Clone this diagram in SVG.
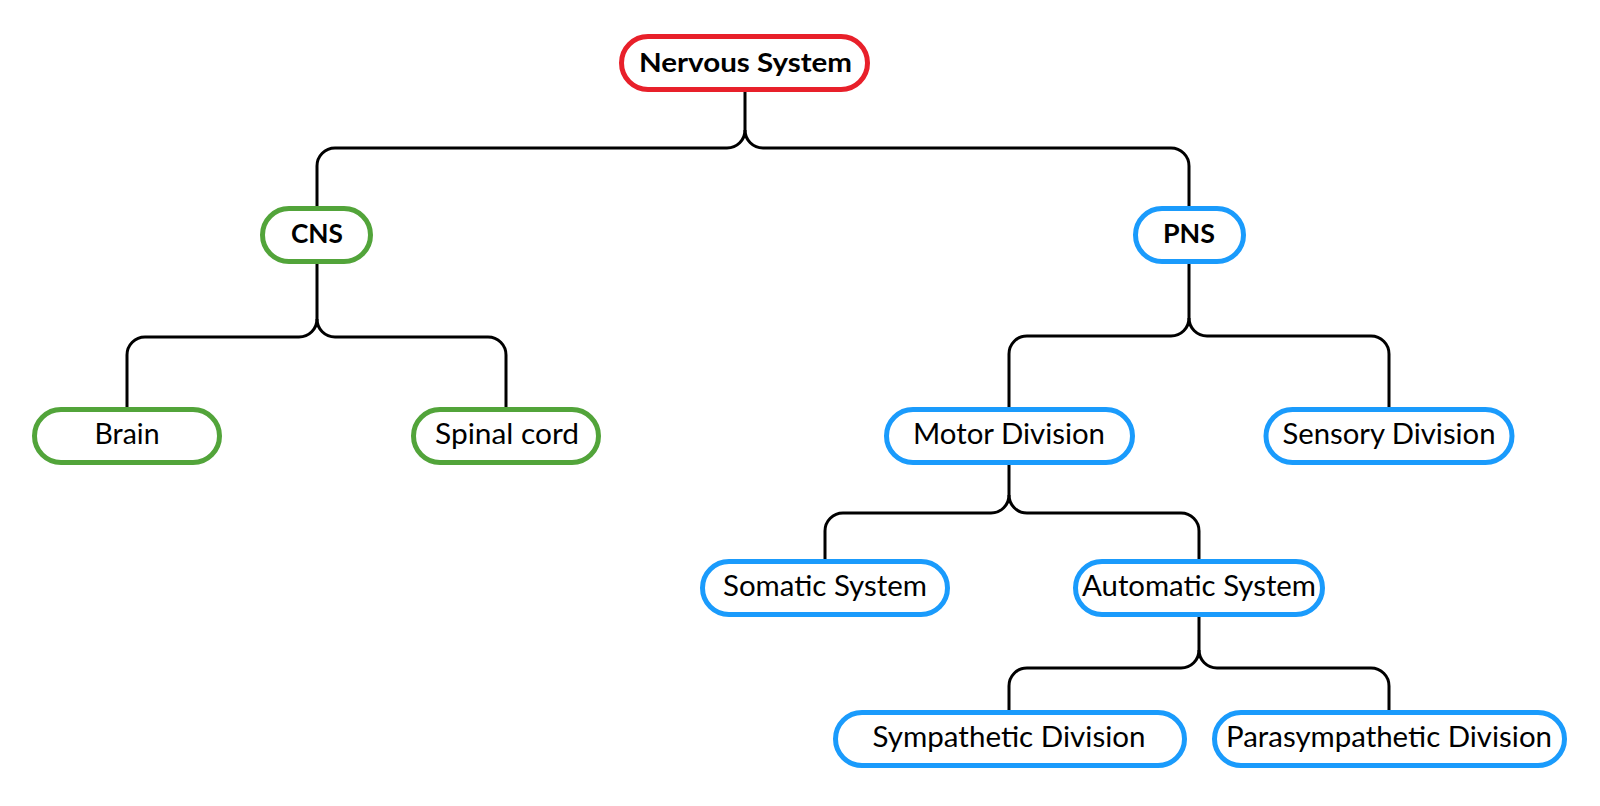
<svg xmlns="http://www.w3.org/2000/svg" width="1600" height="806" viewBox="0 0 1600 806">
<style>
.node rect{fill:#fff;stroke-width:5}
.red rect{stroke:#e8202a}
.green rect{stroke:#52a43a}
.blue rect{stroke:#1a9bfc}
text{font-family:Lato,"Open Sans","Liberation Sans",sans-serif;font-size:28px;fill:#000;text-anchor:middle}
text.b{font-weight:bold;font-size:27px}
#connectors path{fill:none;stroke:#000;stroke-width:3}
</style>
<rect width="1600" height="806" fill="#fff"/>
<g id="connectors">
<path d="M745,92 V130 C745,140 737,148 727,148 H335 C325,148 317,156 317,166 V206"/>
<path d="M745,130 C745,140 753,148 763,148 H1171 C1181,148 1189,156 1189,166 V206"/>
<path d="M317,264 V319 C317,329 309,337 299,337 H145 C135,337 127,345 127,355 V407"/>
<path d="M317,319 C317,329 325,337 335,337 H488 C498,337 506,345 506,355 V407"/>
<path d="M1189,264 V318 C1189,328 1181,336 1171,336 H1027 C1017,336 1009,344 1009,354 V407"/>
<path d="M1189,318 C1189,328 1197,336 1207,336 H1371 C1381,336 1389,344 1389,354 V407"/>
<path d="M1009,465 V495 C1009,505 1001,513 991,513 H843 C833,513 825,521 825,531 V559"/>
<path d="M1009,495 C1009,505 1017,513 1027,513 H1181 C1191,513 1199,521 1199,531 V559"/>
<path d="M1199,617 V650 C1199,660 1191,668 1181,668 H1027 C1017,668 1009,676 1009,686 V710"/>
<path d="M1199,650 C1199,660 1207,668 1217,668 H1371 C1381,668 1389,676 1389,686 V710"/>
</g>
<g id="nervous-system" class="node red">
<rect x="621.5" y="36.5" width="246" height="53" rx="26.5"/>
<text class="b" x="745.5" y="72" textLength="213" lengthAdjust="spacingAndGlyphs">Nervous System</text>
</g>
<g id="cns" class="node green">
<rect x="262.5" y="208.5" width="108" height="53" rx="26.5"/>
<text class="b" x="317" y="243" textLength="52" lengthAdjust="spacingAndGlyphs">CNS</text>
</g>
<g id="pns" class="node blue">
<rect x="1135.5" y="208.5" width="108" height="53" rx="26.5"/>
<text class="b" x="1189" y="243" textLength="52" lengthAdjust="spacingAndGlyphs">PNS</text>
</g>
<g id="brain" class="node green">
<rect x="34.5" y="409.5" width="185" height="53" rx="26.5"/>
<text x="127" y="444" textLength="65" lengthAdjust="spacingAndGlyphs">Brain</text>
</g>
<g id="spinal-cord" class="node green">
<rect x="413.5" y="409.5" width="185" height="53" rx="26.5"/>
<text x="507" y="444" textLength="144" lengthAdjust="spacingAndGlyphs">Spinal cord</text>
</g>
<g id="motor-division" class="node blue">
<rect x="886.5" y="409.5" width="246" height="53" rx="26.5"/>
<text x="1009" y="444" textLength="192" lengthAdjust="spacingAndGlyphs">Motor Division</text>
</g>
<g id="sensory-division" class="node blue">
<rect x="1266" y="409.5" width="246" height="53" rx="26.5"/>
<text x="1389" y="444" textLength="213" lengthAdjust="spacingAndGlyphs">Sensory Division</text>
</g>
<g id="somatic-system" class="node blue">
<rect x="702.5" y="561.5" width="245" height="53" rx="26.5"/>
<text x="825" y="596" textLength="204" lengthAdjust="spacingAndGlyphs">Somatic System</text>
</g>
<g id="automatic-system" class="node blue">
<rect x="1075.5" y="561.5" width="247" height="53" rx="26.5"/>
<text x="1199" y="596" textLength="234" lengthAdjust="spacingAndGlyphs">Automatic System</text>
</g>
<g id="sympathetic-division" class="node blue">
<rect x="835.5" y="712.5" width="349" height="53" rx="26.5"/>
<text x="1009" y="747" textLength="273" lengthAdjust="spacingAndGlyphs">Sympathetic Division</text>
</g>
<g id="parasympathetic-division" class="node blue">
<rect x="1214.5" y="712.5" width="350" height="53" rx="26.5"/>
<text x="1389" y="747" textLength="326" lengthAdjust="spacingAndGlyphs">Parasympathetic Division</text>
</g>
</svg>
